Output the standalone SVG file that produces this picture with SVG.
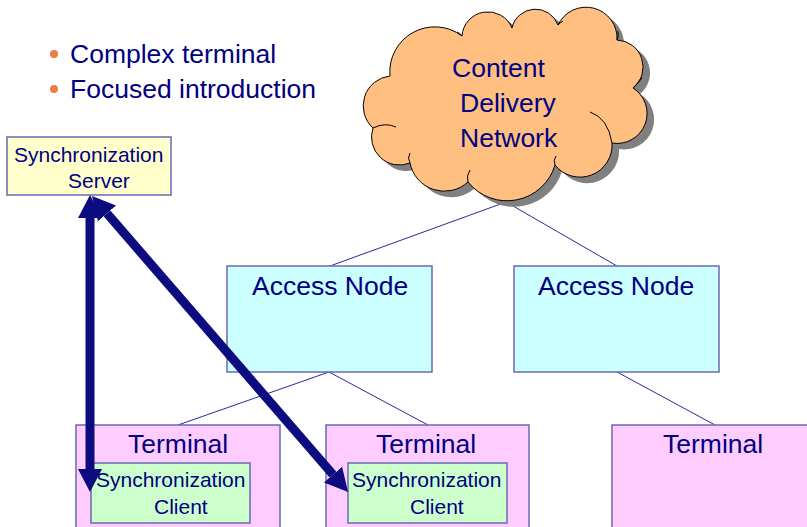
<svg xmlns="http://www.w3.org/2000/svg" width="807" height="527" viewBox="0 0 807 527">
  <style>
    .lbl { font-family: "Liberation Sans", Arial, sans-serif; fill: #000080; }
    .big { font-size: 26.5px; }
    .small { font-size: 21px; }
    .box { stroke: #6a6ab4; stroke-width: 1.5; }
    .access { fill: #ccffff; }
    .term { fill: #ffccff; }
    .client { fill: #ccffcc; }
    .server { fill: #ffffcc; }
    .link { stroke: #2b2b99; stroke-width: 1; fill: none; }
    .sync { stroke: #0c0c80; stroke-width: 9; fill: none; marker-start: url(#head); marker-end: url(#head); }
    .fold { stroke: #000; stroke-width: 1; fill: none; }
  </style>
  <defs>
    <marker id="head" markerUnits="userSpaceOnUse" viewBox="0 0 23 24" refX="0" refY="12" markerWidth="23" markerHeight="24" orient="auto-start-reverse">
      <path d="M0,0 L23,12 L0,24 Z" fill="#0c0c80"/>
    </marker>
    <path id="cloudShape" d="M390,76 A45,45 0 0 1 462,36 A26,26 0 0 1 512,28 A24,24 0 0 1 558,25 A31,31 0 0 1 617,40 A27,27 0 0 1 633,88 A30,30 0 0 1 612,143 A32,32 0 0 1 555,165 A50,50 0 0 1 468,182 A35,35 0 0 1 410,163 A28,28 0 0 1 373,128 A30,30 0 0 1 390,76 Z"/>
  </defs>

  <rect width="807" height="527" fill="#ffffff"/>

  <!-- bullet list -->
  <g id="bullets">
    <circle cx="54" cy="54" r="4" fill="#f47a42"/>
    <text class="lbl big" x="70" y="63">Complex terminal</text>
    <circle cx="54" cy="89" r="4" fill="#f47a42"/>
    <text class="lbl big" x="70" y="98">Focused introduction</text>
  </g>

  <!-- thin links between network elements -->
  <g id="connectors">
    <line class="link" x1="506" y1="202" x2="330" y2="266"/>
    <line class="link" x1="506" y1="202" x2="617" y2="266"/>
    <line class="link" x1="329" y1="372" x2="178" y2="425"/>
    <line class="link" x1="329" y1="372" x2="428" y2="425"/>
    <line class="link" x1="617" y1="372" x2="715" y2="425"/>
  </g>

  <g id="cdn">
    <use href="#cloudShape" transform="translate(7,6)" fill="#808080"/>
    <use href="#cloudShape" fill="#ffbf80" stroke="#000" stroke-width="1"/>
    <path class="fold" d="M373,128 Q385,122 396,127"/>
    <path class="fold" d="M410,163 Q407,158 410,153"/>
    <path class="fold" d="M468,182 Q466,176 470,170"/>
    <path class="fold" d="M555,165 Q553,160 556,156"/>
    <path class="fold" d="M590,112 Q608,118 612,143"/>
    <path class="fold" d="M633,88 Q638,83 642,78"/>
    <path class="fold" d="M617,40 Q619,36 618,31"/>
    <path class="fold" d="M558,25 Q561,22 563,21"/>
    <path class="fold" d="M462,36 Q460,33 457,32"/>
    <text class="lbl big" x="452" y="77">Content</text>
    <text class="lbl big" x="460" y="112">Delivery</text>
    <text class="lbl big" x="460" y="147">Network</text>
  </g>

  <g id="access1">
    <rect class="box access" x="227" y="266" width="205" height="106"/>
    <text class="lbl big" x="252" y="295">Access Node</text>
  </g>
  <g id="access2">
    <rect class="box access" x="514" y="266" width="205" height="106"/>
    <text class="lbl big" x="538" y="295">Access Node</text>
  </g>

  <g id="server">
    <rect class="box server" x="7" y="137" width="164" height="58"/>
    <text class="lbl small" x="14" y="162">Synchronization</text>
    <text class="lbl small" x="68" y="188">Server</text>
  </g>

  <g id="terminal1">
    <rect class="box term" x="76" y="425" width="204" height="110"/>
    <text class="lbl big" x="128" y="453">Terminal</text>
  </g>
  <g id="client1">
    <rect class="box client" x="91" y="463" width="159" height="60"/>
    <text class="lbl small" x="96" y="487">Synchronization</text>
    <text class="lbl small" x="154" y="514">Client</text>
  </g>

  <g id="terminal2">
    <rect class="box term" x="326" y="425" width="203" height="110"/>
    <text class="lbl big" x="376" y="453">Terminal</text>
  </g>
  <g id="client2">
    <rect class="box client" x="348" y="463" width="159" height="60"/>
    <text class="lbl small" x="352" y="487">Synchronization</text>
    <text class="lbl small" x="410" y="514">Client</text>
  </g>

  <g id="terminal3">
    <rect class="box term" x="612" y="425" width="210" height="110"/>
    <text class="lbl big" x="663" y="453">Terminal</text>
  </g>

  <!-- synchronization paths (double-headed) -->
  <g id="sync-links">
    <line class="sync" x1="90" y1="218" x2="90" y2="469"/>
    <line class="sync" x1="107" y1="213.4" x2="333" y2="474.6"/>
  </g>
</svg>
